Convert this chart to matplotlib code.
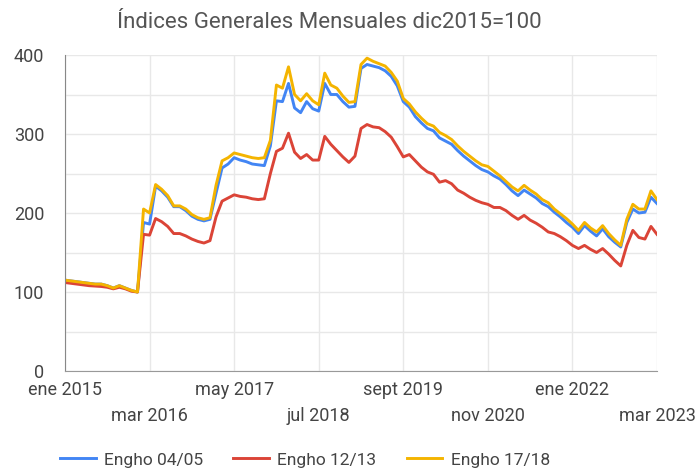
import matplotlib.pyplot as plt

plt.rcParams["font.family"] = ["Roboto", "DejaVu Sans"]

# meses desde ene 2015 hasta mar 2023
etiquetas = ["ene 2015", "mar 2016", "may 2017", "jul 2018",
             "sept 2019", "nov 2020", "ene 2022", "mar 2023"]
pos_etiquetas = [0, 14, 28, 42, 56, 70, 84, 98]

engho_0405 = [115, 114, 113, 112, 111, 110, 110, 108, 105, 108, 105, 102, 100,
              188, 186, 234, 228, 220, 208, 208, 203, 196, 192, 190, 192,
              225, 257, 262, 270, 267, 265, 262, 261, 260, 285, 342, 341, 364,
              333, 327, 341, 332, 329, 364, 350, 350, 341, 334, 335, 383, 388,
              386, 384, 380, 373, 361, 341, 334, 322, 314, 307, 304, 295, 291,
              287, 279, 272, 266, 260, 255, 252, 247, 243, 236, 228, 222, 229,
              224, 219, 212, 208, 201, 195, 188, 182, 174, 184, 177, 171, 180,
              170, 163, 157, 188, 205, 200, 201, 220, 212]
engho_1213 = [112, 111, 110, 109, 108, 107.5, 107, 106, 104, 106, 104, 101, 100,
              173, 172, 193, 189, 183, 174, 174, 171, 167, 164, 162, 165,
              195, 215, 219, 223, 221, 220, 218, 217, 218, 250, 278, 282, 301,
              277, 269, 274, 267, 267, 297, 287, 279, 271, 264, 272, 307, 312,
              309, 308, 303, 296, 284, 271, 274, 266, 258, 252, 249, 239, 241,
              237, 229, 225, 220, 216, 213, 211, 207, 207, 203, 197, 192, 197,
              191, 187, 182, 176, 174, 170, 165, 159, 155, 159, 154, 150, 155,
              148, 140, 133, 159, 178, 169, 167, 183, 173]
engho_1718 = [115, 114, 113, 112, 111, 110, 110, 108, 105, 108, 105, 102, 100,
              205, 200, 236, 230, 222, 209, 209, 205, 198, 194, 192, 194,
              235, 266, 270, 276, 274, 272, 270, 269, 270, 292, 362, 358, 385,
              350, 342, 351, 342, 337, 377, 362, 358, 348, 340, 341, 388, 396,
              392, 389, 386, 378, 367, 345, 338, 328, 320, 313, 310, 302, 298,
              293, 285, 278, 272, 266, 261, 259, 253, 247, 240, 233, 228, 235,
              229, 224, 217, 213, 205, 199, 193, 186, 178, 188, 181, 176, 184,
              174, 166, 159, 192, 211, 205, 205, 228, 217]

meses = list(range(len(engho_1718)))

fig = plt.figure(figsize=(6.97, 4.70), dpi=100)
ax = fig.add_axes([65 / 697, 99 / 470, 592 / 697, 316 / 470])

ax.plot(meses, engho_0405, color="#4285F4", lw=2.1, label="Engho 04/05")
ax.plot(meses, engho_1213, color="#DB4437", lw=2.1, label="Engho 12/13")
ax.plot(meses, engho_1718, color="#F4B400", lw=2.1, label="Engho 17/18")

ax.set_xlim(0, 98)
ax.set_ylim(0, 400)
ax.set_yticks([0, 100, 200, 300, 400])
ax.set_yticks([50, 150, 250, 350], minor=True)
# etiquetas alternadas en dos filas
ax.set_xticks(pos_etiquetas[0::2], etiquetas[0::2])
ax.set_xticks(pos_etiquetas[1::2], etiquetas[1::2], minor=True)

ax.grid(True, which="both", color="#e8e8e8", lw=1)
ax.set_axisbelow(True)
ax.tick_params(axis="both", which="both", length=0, labelsize=13,
               labelcolor="#444444")
ax.tick_params(axis="y", pad=15)
ax.tick_params(axis="x", which="major", pad=7)
ax.tick_params(axis="x", which="minor", pad=26)
ax.tick_params(axis="y", which="minor", labelleft=False)

for s in ["top", "right"]:
    ax.spines[s].set_visible(False)
ax.spines["left"].set_color("#888888")
ax.spines["bottom"].set_color("#999999")

fig.text(329 / 697, 1 - 22 / 470, "Índices Generales Mensuales dic2015=100",
         ha="center", va="center", fontsize=16, color="#555555")

fig.legend(loc="center", bbox_to_anchor=(305 / 697, 1 - 460 / 470), ncol=3,
           frameon=False, fontsize=12.5, handlelength=2.05, handletextpad=0.48,
           columnspacing=1.75, labelcolor="#444444")

plt.savefig("out.png", dpi=100)
